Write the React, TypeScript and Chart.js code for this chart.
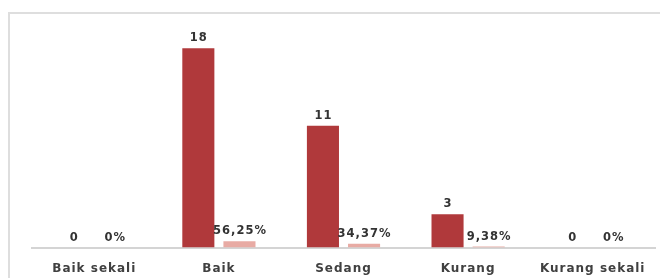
import React, { useEffect, useRef } from "react";
import { Chart, registerables } from "chart.js";

Chart.register(...registerables);

const categories = ["Baik sekali", "Baik", "Sedang", "Kurang", "Kurang sekali"];
const counts = [0, 18, 11, 3, 0];
const fractions = [0, 0.5625, 0.3437, 0.0938, 0];

const FONT = "'DejaVu Sans', sans-serif";

function fmtPct(v: number): string {
  if (v === 0) return "0%";
  return (v * 100).toFixed(2).replace(".", ",") + "%";
}

const valueLabels = {
  id: "valueLabels",
  afterDatasetsDraw(chart: any) {
    const ctx = chart.ctx;
    ctx.save();
    ctx.font = `bold 11.5px ${FONT}`;
    ctx.fillStyle = "#333333";
    ctx.textAlign = "center";
    ctx.textBaseline = "alphabetic";
    chart.data.datasets.forEach((ds: any, di: number) => {
      const meta = chart.getDatasetMeta(di);
      meta.data.forEach((bar: any, i: number) => {
        const v = ds.data[i] as number;
        const text = di === 0 ? String(v) : fmtPct(v);
        ctx.fillText(text, bar.x + 0.5, bar.y - 7);
      });
    });
    ctx.restore();
  },
};

const spacing = {
  id: "spacing",
  beforeInit(chart: any) {
    try {
      chart.ctx.letterSpacing = "1px";
    } catch (e) {}
  },
  beforeDraw(chart: any) {
    try {
      chart.ctx.letterSpacing = "1px";
    } catch (e) {}
  },
};

export default function App() {
  const ref = useRef<HTMLCanvasElement | null>(null);

  useEffect(() => {
    document.body.style.overflow = "hidden";
    if (!ref.current) return;
    const chart = new Chart(ref.current, {
      type: "bar",
      data: {
        labels: categories,
        datasets: [
          {
            label: "Jumlah",
            data: counts,
            backgroundColor: "#B0393B",
            categoryPercentage: 0.66,
            barPercentage: 0.78,
          },
          {
            label: "Persentase",
            data: fractions,
            backgroundColor: "#E8ABA4",
            categoryPercentage: 0.66,
            barPercentage: 0.78,
          },
        ],
      },
      options: {
        animation: false,
        responsive: false,
        maintainAspectRatio: false,
        layout: { padding: { left: 24, right: 13, top: 18, bottom: 4 } },
        plugins: {
          legend: { display: false },
          tooltip: { enabled: false },
        },
        scales: {
          x: {
            grid: { display: false, drawTicks: false },
            border: { display: true, color: "#d4d4d4", width: 2 },
            ticks: {
              color: "#404040",
              padding: 14,
              font: { family: FONT, size: 12, weight: "bold" },
              maxRotation: 0,
              autoSkip: false,
            },
          },
          y: {
            display: false,
            min: 0,
            max: 20,
          },
        },
      },
      plugins: [spacing, valueLabels],
    });
    return () => chart.destroy();
  }, []);

  return (
    <div style={{ position: "relative", width: 660, height: 270 }}>
      <div
        style={{
          position: "absolute",
          left: 0,
          top: 4,
          width: 664,
          height: 290,
          border: "2px solid #dedede",
          boxSizing: "border-box",
        }}
      />
      <canvas
        ref={ref}
        width={660}
        height={286}
        style={{ position: "absolute", left: 0, top: 0, width: 660, height: 286 }}
      />
    </div>
  );
}
